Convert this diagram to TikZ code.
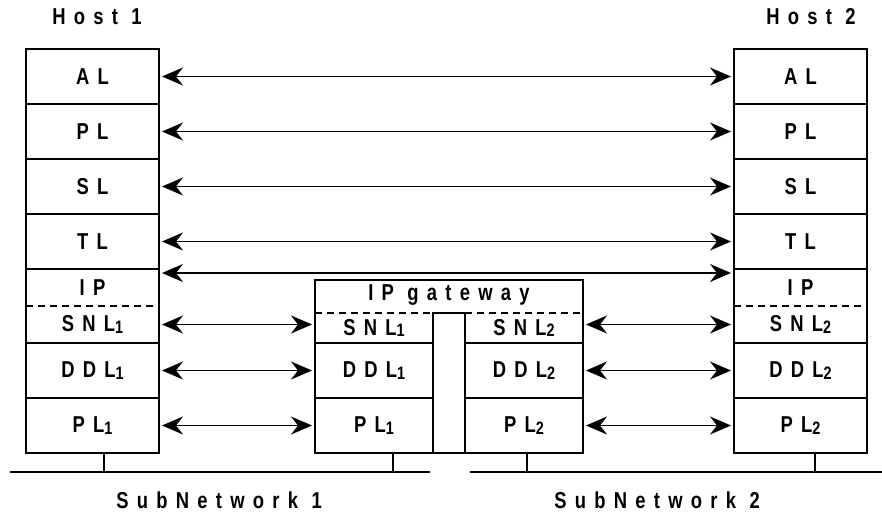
\documentclass[tikz,border=0pt]{standalone}
\usepackage{fontspec}
\setmainfont{Liberation Sans}[FakeStretch=0.8,LetterSpace=36]
\usetikzlibrary{arrows.meta, positioning, fit}

\newcommand\lsub[1]{\raisebox{-0.08em}{\fontsize{18}{18}\selectfont #1}}

\begin{document}
\begin{tikzpicture}[
    x=1pt, y=-1pt,
    font=\fontsize{23}{25}\selectfont\bfseries,
    line width=2pt,
    layer/.style={draw, minimum width=133pt, minimum height=55pt, inner sep=0pt, outer sep=0pt},
    half/.style={layer, draw=none, minimum height=37pt},
    cell/.style={draw, minimum width=118pt, minimum height=55pt, inner sep=0pt, outer sep=0pt},
    split/.style={dash pattern=on 7pt off 5pt},
    arrow/.style={{Stealth[length=21pt,width=18pt,inset=7pt]}-{Stealth[length=21pt,width=18pt,inset=7pt]}, line width=1.6pt, shorten <=3pt, shorten >=3pt},
    bus/.style={line width=2.5pt}
]
\useasboundingbox (0,0) rectangle (882,521);

% Host 1
\node (host1) at (97,17) {Host 1};
\node[layer] (h1al) at (92.5,76.5) {AL};
\node[layer, below=0pt of h1al] (h1pl) {PL};
\node[layer, below=0pt of h1pl] (h1sl) {SL};
\node[layer, below=0pt of h1sl] (h1tl) {TL};
\node[half, below=0pt of h1tl] (h1ip) {IP};
\node[half, below=0pt of h1ip] (h1snl) {SNL\lsub{1}};
\node[draw, inner sep=0pt, outer sep=0pt, fit=(h1ip)(h1snl)] (h1net) {};
\draw[split] (h1ip.south west) -- (h1ip.south east);
\node[layer, below=0pt of h1snl] (h1ddl) {DDL\lsub{1}};
\node[layer, below=0pt of h1ddl] (h1phy) {PL\lsub{1}};

% Host 2
\node (host2) at (811,17) {Host 2};
\node[layer] (h2al) at (800.5,76.5) {AL};
\node[layer, below=0pt of h2al] (h2pl) {PL};
\node[layer, below=0pt of h2pl] (h2sl) {SL};
\node[layer, below=0pt of h2sl] (h2tl) {TL};
\node[half, below=0pt of h2tl] (h2ip) {IP};
\node[half, below=0pt of h2ip] (h2snl) {SNL\lsub{2}};
\node[draw, inner sep=0pt, outer sep=0pt, fit=(h2ip)(h2snl)] (h2net) {};
\draw[split] (h2ip.south west) -- (h2ip.south east);
\node[layer, below=0pt of h2snl] (h2ddl) {DDL\lsub{2}};
\node[layer, below=0pt of h2ddl] (h2phy) {PL\lsub{2}};

% IP gateway
\node[draw, minimum width=268pt, minimum height=173pt, inner sep=0pt, outer sep=0pt] (gw) at (449,366.5) {};
\node (gwname) at (449,295) {IP gateway};
\node[cell, draw=none, minimum height=30pt] (g1snl) at (374,328) {SNL\lsub{1}};
\node[cell, below=0pt of g1snl] (g1ddl) {DDL\lsub{1}};
\node[cell, below=0pt of g1ddl] (g1phy) {PL\lsub{1}};
\node[cell, draw=none, minimum height=30pt] (g2snl) at (524,328) {SNL\lsub{2}};
\node[cell, below=0pt of g2snl] (g2ddl) {DDL\lsub{2}};
\node[cell, below=0pt of g2ddl] (g2phy) {PL\lsub{2}};
\node[draw, minimum width=32pt, minimum height=140pt, inner sep=0pt, outer sep=0pt] (gmid) at (449,383) {};
\draw[split] (g1snl.north west) -- (g1snl.north east);
\draw[split] (g2snl.north west) -- (g2snl.north east);

% peer protocols
\draw[arrow] (h1al) -- (h2al);
\draw[arrow] (h1pl) -- (h2pl);
\draw[arrow] (h1sl) -- (h2sl);
\draw[arrow] (h1tl) -- (h2tl);
\draw[arrow] ([yshift=-4pt]h1ip.north east) -- ([yshift=-4pt]h2ip.north west);

\draw[arrow] (h1snl.east) -- (h1snl.east -| gw.west);
\draw[arrow] (h1ddl) -- (g1ddl);
\draw[arrow] (h1phy) -- (g1phy);
\draw[arrow] (h2snl.west -| gw.east) -- (h2snl.west);
\draw[arrow] (g2ddl) -- (h2ddl);
\draw[arrow] (g2phy) -- (h2phy);

% subnetworks
\coordinate (bus1w) at (10,472);
\coordinate (bus1e) at (430,472);
\coordinate (bus2w) at (470,472);
\coordinate (bus2e) at (882,472);
\draw[bus] (bus1w) -- (bus1e);
\draw[bus] (bus2w) -- (bus2e);
\draw ([xshift=11pt]h1phy.south) -- ([xshift=11pt]h1phy.south |- bus1w);
\draw ([xshift=19pt]g1phy.south) -- ([xshift=19pt]g1phy.south |- bus1w);
\draw ([xshift=3pt]g2phy.south) -- ([xshift=3pt]g2phy.south |- bus2w);
\draw ([xshift=14pt]h2phy.south) -- ([xshift=14pt]h2phy.south |- bus2w);
\node (sub1) at (219,500) {SubNetwork 1};
\node (sub2) at (657,500) {SubNetwork 2};

\end{tikzpicture}
\end{document}
